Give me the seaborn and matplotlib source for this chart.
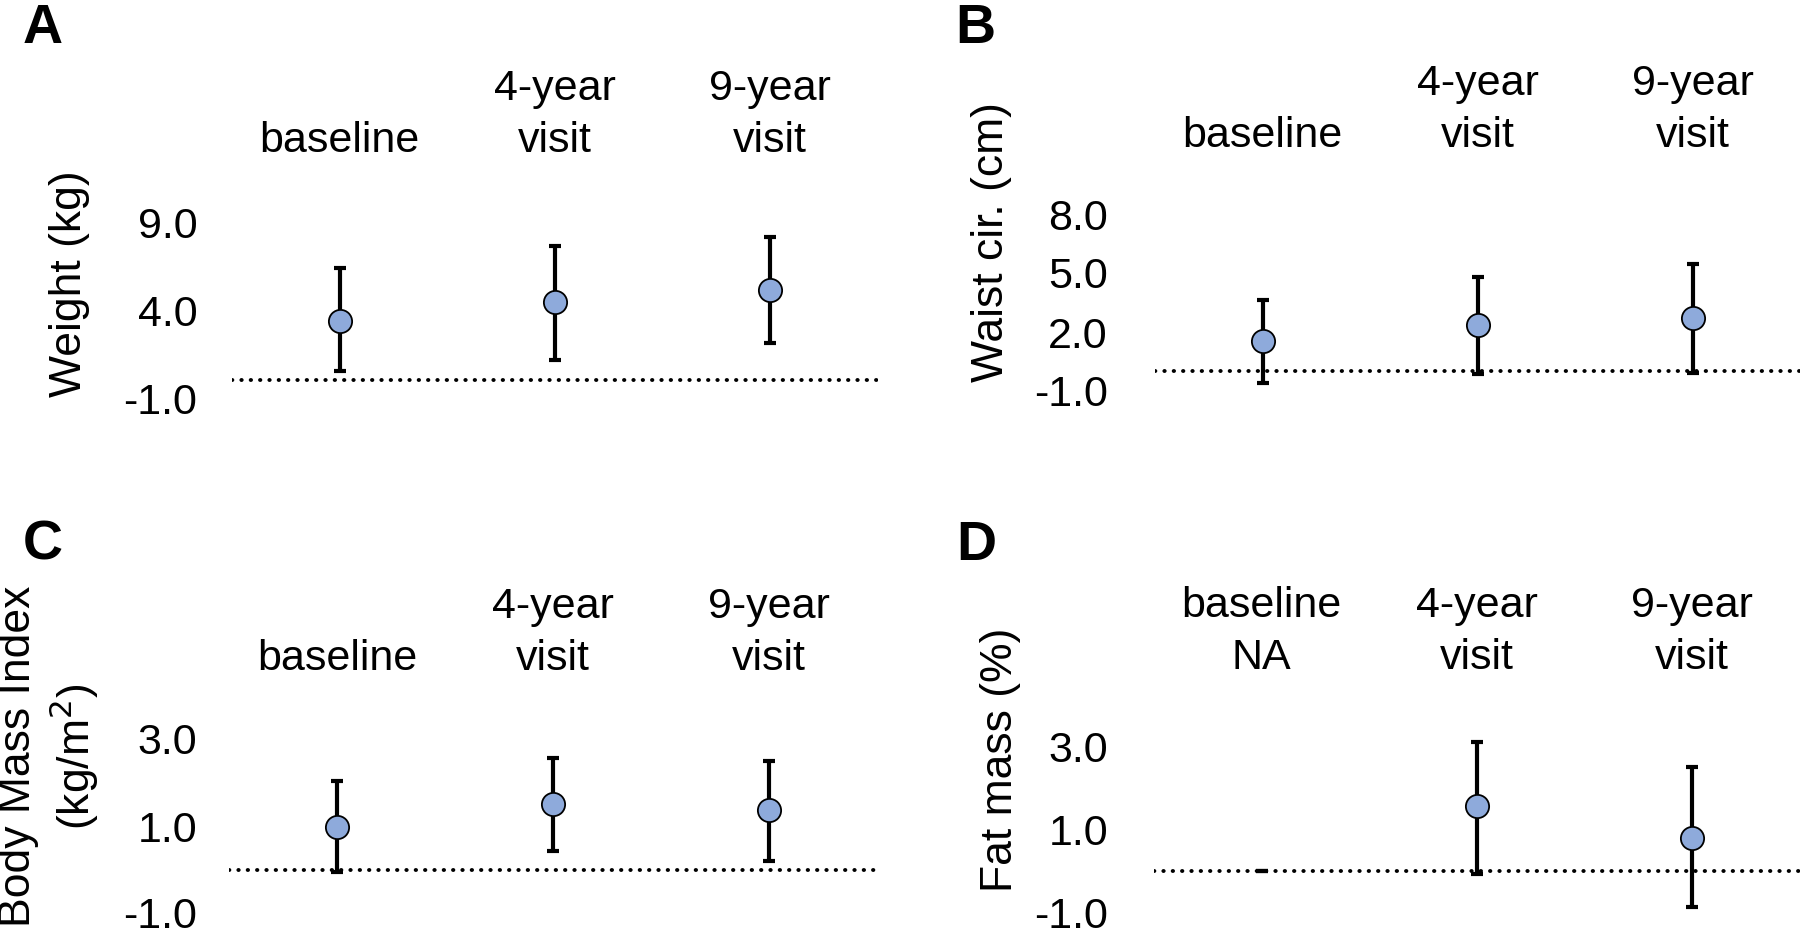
import numpy as np
import pandas as pd
import matplotlib
matplotlib.use('Agg')
import matplotlib.pyplot as plt
import seaborn as sns

sns.set_style('white')
plt.rcParams['font.family'] = ['Liberation Sans', 'DejaVu Sans']
plt.rcParams['text.color'] = 'black'
plt.rcParams['axes.labelcolor'] = 'black'
plt.rcParams['xtick.color'] = 'black'
plt.rcParams['ytick.color'] = 'black'

# x categories
visits = ['baseline', '4-year\nvisit', '9-year\nvisit']
visits_fat = ['baseline\nNA', '4-year\nvisit', '9-year\nvisit']

# A: weight (kg)
weight_mean = [3.4, 4.43, 5.13]
weight_lo = [0.53, 1.17, 2.11]
weight_hi = [6.36, 7.64, 8.15]

# B: waist circumference (cm)
waist_mean = [1.54, 2.34, 2.73]
waist_lo = [-0.59, -0.12, -0.07]
waist_hi = [3.64, 4.8, 5.47]

# C: BMI (kg/m2)
bmi_mean = [0.98, 1.5, 1.36]
bmi_lo = [-0.05, 0.42, 0.2]
bmi_hi = [2.03, 2.57, 2.5]

# D: fat mass (%), no baseline value
fat_mean = [np.nan, 1.57, 0.8]
fat_lo = [0.0, -0.06, -0.86]
fat_hi = [0.0, 3.1, 2.5]

panels = [
    dict(letter='A', cats=visits, mean=weight_mean, lo=weight_lo, hi=weight_hi,
         ticks=[-1, 4, 9], ylabel='Weight (kg)',
         rect=[232/1800, 1-398/935, 646/1800, 176/935], lpos=(-0.22, 0.65),
         ypad=25, xpad=44, letter_xy=(23, 43)),
    dict(letter='B', cats=visits, mean=waist_mean, lo=waist_lo, hi=waist_hi,
         ticks=[-1, 2, 5, 8], ylabel='Waist cir. (cm)',
         rect=[1155/1800, 1-391/935, 645/1800, 177/935], lpos=(-0.222, 0.84),
         ypad=34, xpad=42, letter_xy=(955, 43)),
    dict(letter='C', cats=visits, mean=bmi_mean, lo=bmi_lo, hi=bmi_hi,
         ticks=[-1, 1, 3], ylabel='Body Mass Index\n(kg/m$^2$)',
         rect=[229/1800, 1-913/935, 648/1800, 174/935], lpos=(-0.197, 0.90),
         ypad=23, xpad=43, letter_xy=(23, 560)),
    dict(letter='D', cats=visits_fat, mean=fat_mean, lo=fat_lo, hi=fat_hi,
         ticks=[-1, 1, 3], ylabel='Fat mass (%)',
         rect=[1154/1800, 1-913/935, 646/1800, 167/935], lpos=(-0.206, 0.92),
         ypad=33, xpad=49, letter_xy=(956, 560)),
]

fig = plt.figure(figsize=(18, 9.35), dpi=100)

for p in panels:
    ax = fig.add_axes(p['rect'])
    x = np.arange(3)
    lo = np.array(p['lo'])
    hi = np.array(p['hi'])

    # reference line at zero
    ax.axhline(0, color='black', lw=2.8, ls=(0, (0.1, 2.3)),
               dash_capstyle='round', zorder=1)

    # confidence intervals
    ax.errorbar(x, (lo + hi) / 2, yerr=(hi - lo) / 2, fmt='none', ecolor='black',
                elinewidth=3, capsize=4.5, capthick=3, zorder=2, clip_on=False)

    df = pd.DataFrame({'x': x, 'y': p['mean']}).dropna()
    sns.scatterplot(data=df, x='x', y='y', s=280, color='#8EAADB',
                    edgecolor='black', linewidth=1.3, zorder=3, ax=ax, clip_on=False)

    ax.set_xlim(-0.5, 2.5)
    ax.set_ylim(p['ticks'][0], p['ticks'][-1])
    ax.set_yticks(p['ticks'])
    ax.set_yticklabels([f'{t:.1f}' for t in p['ticks']])
    ax.tick_params(axis='y', length=0, pad=p['ypad'], labelsize=31)

    ax.set_xticks(x)
    ax.set_xticklabels(p['cats'])
    ax.xaxis.tick_top()
    ax.tick_params(axis='x', length=0, pad=p['xpad'], labelsize=31,
                   top=True, labeltop=True, bottom=False, labelbottom=False)
    for t in ax.get_xticklabels():
        t.set_linespacing(1.38)

    ax.set_xlabel('')
    ax.set_ylabel(p['ylabel'], fontsize=32, linespacing=1.2)
    ax.yaxis.set_label_coords(*p['lpos'])
    sns.despine(ax=ax, left=True, bottom=True)

    fig.text(p['letter_xy'][0] / 1800, 1 - p['letter_xy'][1] / 935, p['letter'],
             fontsize=40, fontweight='bold', ha='left', va='baseline')

fig.savefig('out.png', dpi=100)
